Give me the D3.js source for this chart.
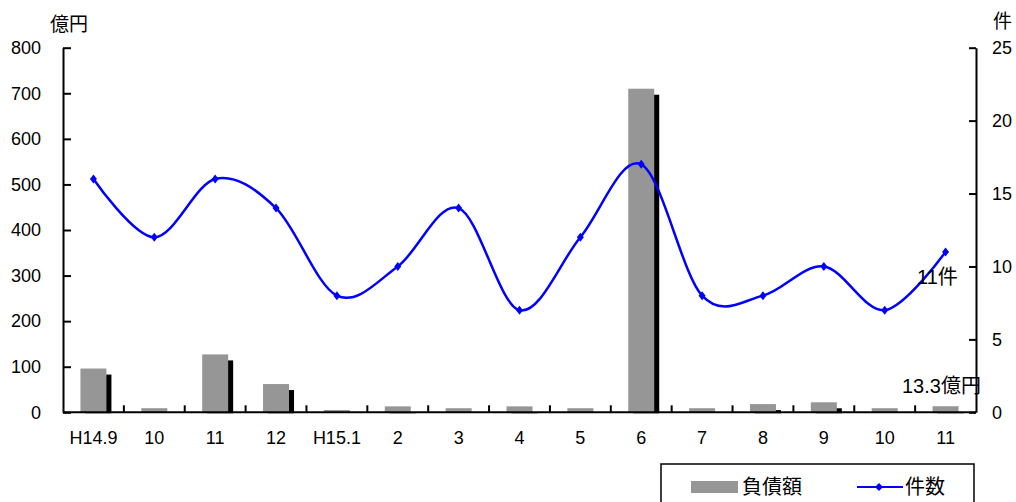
<!DOCTYPE html>
<html><head><meta charset="utf-8">
<script src="https://cdn.jsdelivr.net/npm/d3@7"></script>
<style>
html,body{margin:0;padding:0;background:#fff;}
svg{display:block;font-family:"Liberation Sans","Noto Sans CJK JP",Arial,sans-serif;}
</style></head>
<body><svg id="c" width="1016" height="502"></svg>
<script>
const categories = ["H14.9","10","11","12","H15.1","2","3","4","5","6","7","8","9","10","11"];
const debtValues = [96, 9, 127, 62, 5, 13, 9, 13, 9, 710, 9, 18, 22, 9, 13.3];
const countValues = [16, 12, 16, 14, 8, 10, 14, 7, 12, 17, 8, 8, 10, 7, 11];
const leftTicks = [0,100,200,300,400,500,600,700,800];
const rightTicks = [0,5,10,15,20,25];
const leftUnit = "億円";
const rightUnit = "件";
const seriesNames = ["負債額","件数"];
const annotations = ["11件","13.3億円"];

const svg = d3.select("#c");
const L = 63, R = 976, T = 47.7, B = 412.3;
const keys = categories.map((c,i)=>i);
const x = d3.scaleBand().domain(keys).range([L,R]).padding(0);
const yL = d3.scaleLinear().domain([0,800]).range([B,T]);
const yR = d3.scaleLinear().domain([0,25]).range([B,T]);
const bw = 26;

svg.append("defs").append("clipPath").attr("id","clip")
  .append("rect").attr("x",L).attr("y",0).attr("width",R-L).attr("height",B+1);

// shadow bars
svg.append("g").attr("clip-path","url(#clip)").selectAll("rect").data(debtValues).join("rect")
  .attr("x",(d,i)=>x(i)+x.bandwidth()/2-bw/2+5)
  .attr("y",d=>yL(d)+6)
  .attr("width",bw)
  .attr("height",d=>B-yL(d))
  .attr("fill","#000");
// grey bars
svg.append("g").selectAll("rect").data(debtValues).join("rect")
  .attr("x",(d,i)=>x(i)+x.bandwidth()/2-bw/2)
  .attr("y",d=>yL(d))
  .attr("width",bw)
  .attr("height",d=>B-yL(d))
  .attr("fill","#969696");

// axes
const fs = "18px";
const ax = svg.append("g").attr("transform",`translate(${L},0)`)
  .call(d3.axisLeft(yL).tickValues(leftTicks).tickSizeInner(-8).tickSizeOuter(0).tickPadding(22));
const ax2 = svg.append("g").attr("transform",`translate(${R},0)`)
  .call(d3.axisRight(yR).tickValues(rightTicks).tickSizeInner(-7).tickSizeOuter(0).tickPadding(16));
[ax,ax2].forEach(a=>{
  a.select(".domain").attr("stroke","#000").attr("stroke-width",2);
  a.selectAll(".tick line").attr("stroke","#000").attr("stroke-width",2);
  a.selectAll(".tick text").attr("font-size",fs).attr("fill","#000").attr("font-family","Liberation Sans, Arial, sans-serif");
});

// x axis
const xa = svg.append("g").attr("transform",`translate(0,${B})`);
xa.append("line").attr("x1",L).attr("x2",R).attr("y1",0).attr("y2",0).attr("stroke","#000").attr("stroke-width",2);
xa.selectAll("line.t").data(keys.slice(1)).join("line").attr("class","t")
  .attr("x1",d=>x(d)).attr("x2",d=>x(d)).attr("y1",0).attr("y2",-7)
  .attr("stroke","#000").attr("stroke-width",2);
xa.selectAll("text").data(keys).join("text")
  .attr("x",d=>x(d)+x.bandwidth()/2).attr("y",32)
  .attr("text-anchor","middle").attr("font-size",fs).attr("font-family","Liberation Sans, Arial, sans-serif")
  .text(d=>categories[d]);

// line
const pts = countValues.map((v,i)=>[x(i)+x.bandwidth()/2, yR(v)]);
svg.append("path").attr("d",d3.line().curve(d3.curveCardinal.tension(0))(pts))
  .attr("fill","none").attr("stroke","#0000ff").attr("stroke-width",2.5);
svg.append("g").selectAll("path").data(pts).join("path")
  .attr("d",d=>`M${d[0]},${d[1]-4.5}L${d[0]+3.5},${d[1]}L${d[0]},${d[1]+4.5}L${d[0]-3.5},${d[1]}Z`)
  .attr("fill","#0000ff");

// units
svg.append("text").attr("x",50).attr("y",31).attr("font-size","19px").text(leftUnit);
svg.append("text").attr("x",993).attr("y",28).attr("font-size","19px").text(rightUnit);

// annotations
svg.append("text").attr("x",917).attr("y",284).attr("font-size","20px").text(annotations[0]);
svg.append("text").attr("x",902).attr("y",393).attr("font-size","20px").text(annotations[1]);

// legend
const lg = svg.append("g");
lg.append("rect").attr("x",661).attr("y",464).attr("width",313).attr("height",50)
  .attr("fill","#fff").attr("stroke","#000").attr("stroke-width",1.5);
lg.append("rect").attr("x",691).attr("y",481).attr("width",47).attr("height",12).attr("fill","#969696");
lg.append("text").attr("x",742).attr("y",494).attr("font-size","20px").text(seriesNames[0]);
lg.append("line").attr("x1",857).attr("x2",903).attr("y1",487).attr("y2",487).attr("stroke","#0000ff").attr("stroke-width",2);
lg.append("path").attr("d","M879,483L883,487L879,491L875,487Z").attr("fill","#0000ff");
lg.append("text").attr("x",905).attr("y",494).attr("font-size","20px").text(seriesNames[1]);
</script></body></html>
